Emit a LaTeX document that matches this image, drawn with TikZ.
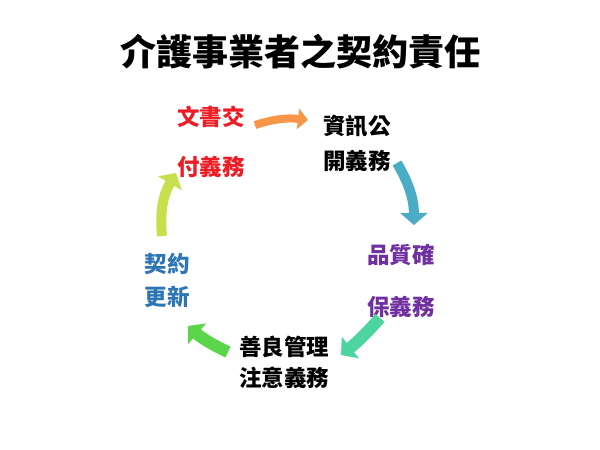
\documentclass[tikz,border=0pt]{standalone}
\usepackage{fontspec}
\newfontfamily\cjk{Noto Sans CJK TC}
\usetikzlibrary{arrows.meta}
\definecolor{DocRed}{HTML}{EE1C24}
\definecolor{Purple}{HTML}{7030A0}
\definecolor{Blue}{HTML}{2E75B6}
\definecolor{Orange}{HTML}{F79646}
\definecolor{Teal}{HTML}{4BACC6}
\definecolor{Mint}{HTML}{4CD59E}
\definecolor{Green}{HTML}{5BD64B}
\definecolor{Lime}{HTML}{C6E04C}

\begin{document}
\begin{tikzpicture}[x=1pt,y=1pt,
      duty/.style={font=\cjk\bfseries\fontsize{22.5}{27}\selectfont,
        inner sep=0pt,text height=18.7pt,text depth=1.6pt},
      heading/.style={font=\cjk\bfseries\fontsize{36}{40}\selectfont,
        inner sep=0pt,text height=29.9pt,text depth=2.5pt},
      flow/.style={line width=10pt,-{Triangle[width=27pt,length=12pt]}}
    ]
      \useasboundingbox[fill=white] (0,0) rectangle (600,450);
      \node[heading] (title) at (300,398) {介護事業者之契約責任};
      % duties round the cycle
      \node[duty,text=DocRed] (doc1) at (211,333) {文書交};
      \node[duty,text=DocRed] (doc2) at (211,283) {付義務};
      \node[duty] (info1) at (357,324) {資訊公};
      \node[duty] (info2) at (357,289) {開義務};
      \node[duty,text=Purple] (qual1) at (401,195) {品質確};
      \node[duty,text=Purple] (qual2) at (401,143) {保義務};
      \node[duty] (care1) at (284,103) {善良管理};
      \node[duty] (care2) at (284,72) {注意義務};
      \node[duty,text=Blue] (renew1) at (167,186) {契約};
      \node[duty,text=Blue] (renew2) at (167,153) {更新};
      % arrow ends
      \coordinate (docout) at (255,325);
      \coordinate (infoin) at (308,330);
      \coordinate (infoout) at (397,287);
      \coordinate (qualin) at (414,225);
      \coordinate (qualout) at (380,132);
      \coordinate (carein) at (341,95);
      \coordinate (careout) at (228,98);
      \coordinate (renewin) at (188,124);
      \coordinate (renewout) at (162,214);
      \coordinate (docin) at (176,277);
      \draw[flow,line width=8pt,-{Triangle[width=20pt,length=10pt]},Orange]
        (docout) to[bend left=12] (infoin);
      \draw[flow,Teal] (infoout) to[bend left=15] (qualin);
      \draw[flow,line width=12pt,Mint] (qualout) to[bend left=5] (carein);
      \draw[flow,line width=12pt,Green] (careout) to[bend left=8] (renewin);
      \draw[flow,Lime] (renewout) to[bend left=18] (docin);
    \end{tikzpicture}
\end{document}
